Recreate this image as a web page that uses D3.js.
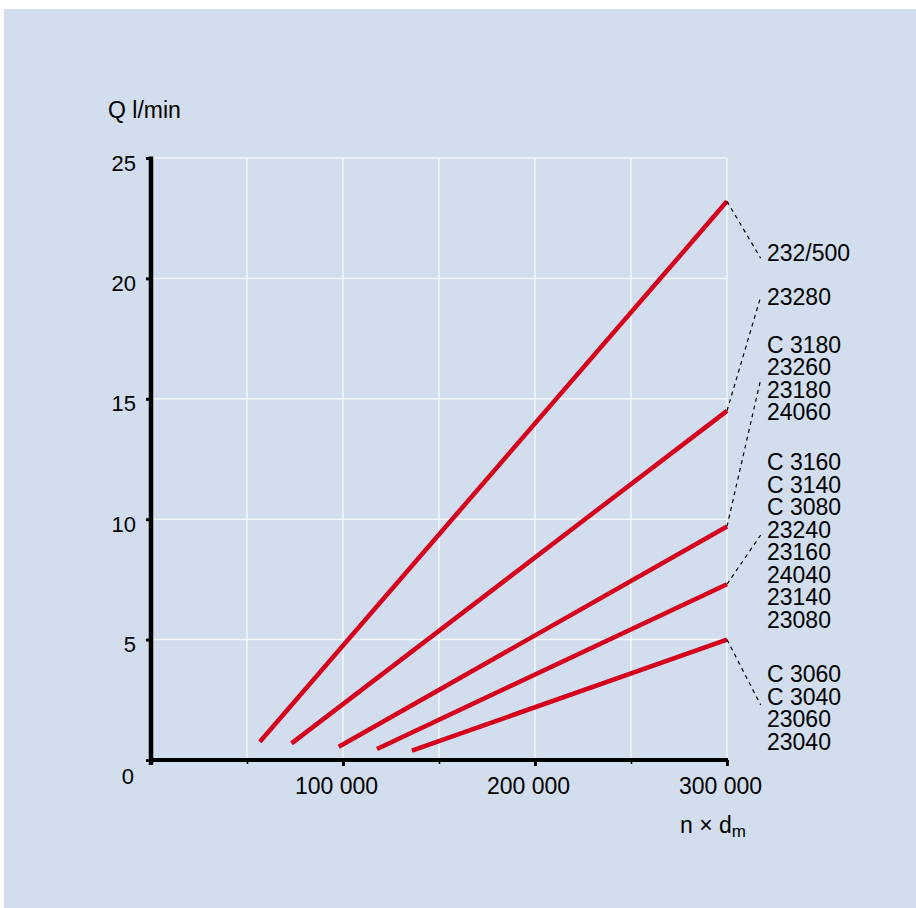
<!DOCTYPE html>
<html><head><meta charset="utf-8">
<script src="https://cdn.jsdelivr.net/npm/d3@7"></script>
<style>body{margin:0;background:#fff}text{font-family:"Liberation Sans",Arial,Helvetica,sans-serif;fill:#000}</style>
</head><body><svg id="c" width="916" height="908"></svg>
<script>
// ---- data ----
const xStart = [56700, 73200, 97800, 117700, 135900];
const yStart = [0.76, 0.69, 0.55, 0.46, 0.39];
const xEnd   = [300000, 300000, 300000, 300000, 300000];
const yEnd   = [23.2, 14.5, 9.7, 7.3, 5.0];
const labelBlocks = [
  ["232/500"],
  ["23280"],
  ["C 3180", "23260", "23180", "24060"],
  ["C 3160", "C 3140", "C 3080", "23240", "23160", "24040", "23140", "23080"],
  ["C 3060", "C 3040", "23060", "23040"]
];
const yTickValues = [0, 5, 10, 15, 20, 25];
const xMajorTicks = [100000, 200000, 300000];
const xMajorLabels = ["100 000", "200 000", "300 000"];
const xMinorTicks = [50000, 150000, 250000];
const xGrid = [50000, 100000, 150000, 200000, 250000, 300000];
const yGrid = [5, 10, 15, 20, 25];

// ---- layout ----
const svg = d3.select("#c");
const x = d3.scaleLinear().domain([0, 300000]).range([151, 727]);
const y = d3.scaleLinear().domain([0, 25]).range([760, 158]);
const red = "#d5001c";

svg.append("rect").attr("x", 4).attr("y", 9).attr("width", 912).attr("height", 899).attr("fill", "#d2ddee");

// grid
const g = svg.append("g");
g.selectAll(".vg").data(xGrid).join("line")
  .attr("x1", d => x(d)).attr("x2", d => x(d)).attr("y1", y(25)).attr("y2", y(0))
  .attr("stroke", "#f3f6fb").attr("stroke-width", 1.5);
g.selectAll(".hg").data(yGrid).join("line")
  .attr("x1", x(0)).attr("x2", x(300000)).attr("y1", d => y(d)).attr("y2", d => y(d))
  .attr("stroke", "#f3f6fb").attr("stroke-width", 1.5);

// series lines
const lines = xStart.map((xs, i) => [[xs, yStart[i]], [xEnd[i], yEnd[i]]]);
const lineGen = d3.line().x(d => x(d[0])).y(d => y(d[1]));
svg.selectAll(".ser").data(lines).join("path")
  .attr("d", lineGen).attr("fill", "none").attr("stroke", red).attr("stroke-width", 4.5);

// axes
const xAxis = svg.append("g").attr("transform", `translate(0,${y(0)})`)
  .call(d3.axisBottom(x).tickValues(xMajorTicks).tickSize(6).tickFormat((d, i) => xMajorLabels[i]));
xAxis.select(".domain").remove();
xAxis.selectAll(".tick line").attr("stroke", "#000").attr("stroke-width", 3);
xAxis.selectAll(".tick text").attr("font-size", 23).attr("dx", -7).attr("y", 34).attr("dy", 0)
  .style("font-family", "Liberation Sans, Arial, sans-serif");
const xMinor = svg.append("g").attr("transform", `translate(0,${y(0)})`)
  .call(d3.axisBottom(x).tickValues(xMinorTicks).tickSize(4).tickFormat(""));
xMinor.select(".domain").remove();
xMinor.selectAll(".tick line").attr("stroke", "#000").attr("stroke-width", 1.5);

const yAxis = svg.append("g").attr("transform", `translate(${x(0)},0)`)
  .call(d3.axisLeft(y).tickValues(yTickValues).tickSize(5).tickPadding(10));
yAxis.select(".domain").remove();
yAxis.selectAll(".tick line").attr("stroke", "#000").attr("stroke-width", 3);
yAxis.selectAll(".tick text").attr("font-size", 22).attr("dy", "0.55em")
  .style("font-family", "Liberation Sans, Arial, sans-serif")
  .attr("transform", d => d === 0 ? "translate(-2,11)" : "translate(0,0)");

// axis lines
svg.append("line").attr("x1", x(0)).attr("x2", x(0)).attr("y1", y(25) - 1.5).attr("y2", y(0) + 5)
  .attr("stroke", "#000").attr("stroke-width", 4.5);
svg.append("line").attr("x1", x(0)).attr("x2", x(300000) + 1).attr("y1", y(0)).attr("y2", y(0))
  .attr("stroke", "#000").attr("stroke-width", 4);

// axis titles
svg.append("text").attr("x", 108).attr("y", 118).attr("font-size", 23).text("Q l/min");
const xt = svg.append("text").attr("x", 680).attr("y", 833).attr("font-size", 23);
xt.append("tspan").text("n × d");
xt.append("tspan").attr("font-size", 17).attr("dy", 4).text("m");

// labels
const blockBaselines = [261, 305, 352.5, 470, 682.3];
const lineHeight = 22.5;
const labelX = 767;
labelBlocks.forEach((blk, bi) => {
  blk.forEach((t, li) => {
    svg.append("text").attr("x", labelX).attr("y", blockBaselines[bi] + li * lineHeight)
      .attr("font-size", 23).text(t);
  });
});

// leader lines
const leaderEnds = [258.3, 296.7, 379.3, 535, 705];
svg.selectAll(".lead").data(lines).join("line")
  .attr("x1", d => x(d[1][0])).attr("y1", d => y(d[1][1]))
  .attr("x2", 760.7).attr("y2", (d, i) => leaderEnds[i])
  .attr("stroke", "#000").attr("stroke-width", 1.2).attr("stroke-dasharray", "4,4");
</script></body></html>
